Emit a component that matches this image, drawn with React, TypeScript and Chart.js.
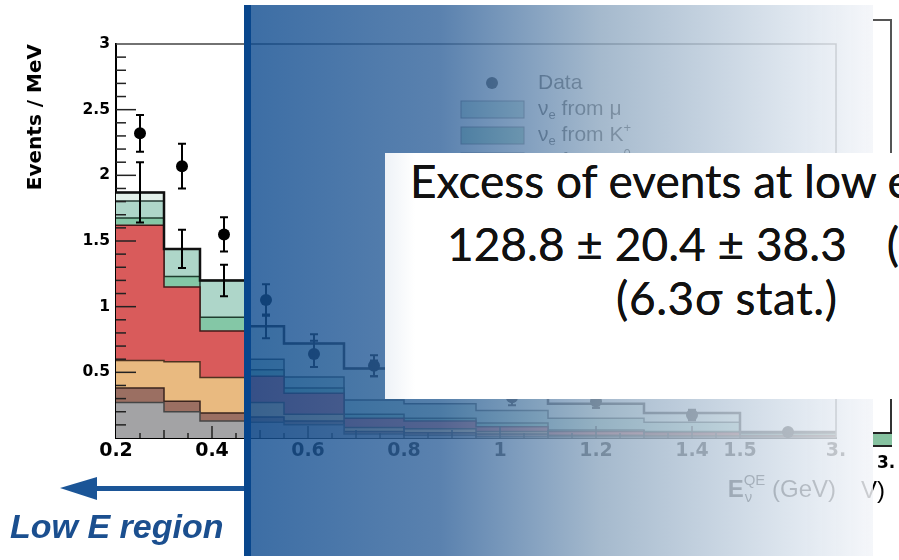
import React, { useEffect, useRef } from 'react';
import { Chart, registerables } from 'chart.js';

Chart.register(...registerables);

// ---------- data ----------
const binEdges = [0.2, 0.3, 0.375, 0.475, 0.55, 0.675, 0.8, 0.95, 1.1, 1.3, 1.5, 3.0];
const dataValues = [2.32, 2.07, 1.55, 1.05, 0.64, 0.55, 0.4, 0.31, 0.28, 0.175, 0.045];
const dataErrors = [0.14, 0.17, 0.13, 0.12, 0.1, 0.08, 0.07, 0.06, 0.05, 0.04, 0.015];
const bgErrors = [0.23, 0.145, 0.12, 0.09, 0.07, 0.06, 0.05, 0.04, 0.03, 0.02, 0.005];

const otherBg = [0.27, 0.2, 0.13, 0.12, 0.1, 0.03, 0.02, 0.01, 0.01, 0.008, 0.003];
const dirtBg = [0.11, 0.08, 0.06, 0.04, 0.03, 0.02, 0.02, 0.02, 0.005, 0.004, 0.002];
const deltaBg = [0.21, 0.3, 0.27, 0.11, 0.05, 0.03, 0.03, 0.02, 0.005, 0.008, 0.003];
const pi0Bg = [1.03, 0.57, 0.355, 0.2, 0.16, 0.07, 0.06, 0.035, 0.03, 0.02, 0.007];
const nueK0 = [0.055, 0.08, 0.105, 0.05, 0.04, 0.03, 0.02, 0.03, 0.01, 0.01, 0.005];
const nueKplus = [0.13, 0.21, 0.28, 0.08, 0.085, 0.11, 0.11, 0.095, 0.09, 0.07, 0.015];
const nueMu = [0.065, 0, 0, 0.25, 0.255, 0.24, 0.16, 0.12, 0.11, 0.07, 0.01];

const xTickValues = [0.2, 0.4, 0.6, 0.8, 1.0, 1.2, 1.4, 1.5, 3.0];
const xTickLabels = ['0.2', '0.4', '0.6', '0.8', '1', '1.2', '1.4', '1.5', '3.'];
const yTickValues = [0, 0.5, 1, 1.5, 2, 2.5, 3];
const yTickLabels = ['', '0.5', '1', '1.5', '2', '2.5', '3'];

// the last bin (1.5 - 3.0 GeV) is drawn compressed, as in the original plot
const toAxis = (e: number) => (e <= 1.5 ? e : 1.5 + ((e - 1.5) * 0.2) / 1.5);

const layers = [
  { label: 'other', values: otherBg, fill: '#a3a3a5', line: '#454545' },
  { label: 'dirt', values: dirtBg, fill: '#9b6f62', line: '#3a241e' },
  { label: 'Δ→Nγ', values: deltaBg, fill: '#e9ba80', line: '#4e3320' },
  { label: 'π0 misid', values: pi0Bg, fill: '#d95b5b', line: '#461818' },
  { label: 'νe from K0', values: nueK0, fill: '#84c7a6', line: '#1f3d2f' },
  { label: 'νe from K+', values: nueKplus, fill: '#aed6c9', line: '#263b34' },
  { label: 'νe from μ', values: nueMu, fill: '#e2f0ea', line: '#2a3a35' },
];

const edgesAxis = binEdges.map(toAxis);
const centersAxis = binEdges.slice(0, -1).map((e, i) => toAxis((e + binEdges[i + 1]) / 2));

const cumulative: number[][] = [];
layers.forEach((l, k) => {
  cumulative.push(l.values.map((v, i) => v + (k > 0 ? cumulative[k - 1][i] : 0)));
});
const totals = cumulative[cumulative.length - 1];

const stepPoints = (vals: number[]) => {
  const pts = vals.map((v, i) => ({ x: edgesAxis[i], y: v }));
  pts.push({ x: edgesAxis[edgesAxis.length - 1], y: vals[vals.length - 1] });
  return pts;
};

// legend entries (text segments: n normal, sub, sup)
const legendEntries: { segs: [string, string][]; color: string }[] = [
  { segs: [['ν', 'n'], ['e', 'sub'], [' from μ', 'n']], color: '#aed6c9' },
  { segs: [['ν', 'n'], ['e', 'sub'], [' from K', 'n'], ['+', 'sup']], color: '#84c7a6' },
  { segs: [['ν', 'n'], ['e', 'sub'], [' from K', 'n'], ['0', 'sup']], color: '#5fae8c' },
  { segs: [['π', 'n'], ['0', 'sup'], [' misid', 'n']], color: '#d95b5b' },
  { segs: [['Δ→Nγ', 'n']], color: '#e9ba80' },
  { segs: [['dirt', 'n']], color: '#9b6f62' },
  { segs: [['other', 'n']], color: '#a3a3a5' },
];

const decorPlugin = {
  id: 'decor',
  afterDatasetsDraw(chart: any) {
    const { ctx, chartArea, scales } = chart;
    const x = scales.x;
    const y = scales.y;
    ctx.save();
    // error bars
    ctx.strokeStyle = '#000';
    ctx.lineWidth = 2;
    const bar = (px: number, lo: number, hi: number) => {
      const a = y.getPixelForValue(lo);
      const b = y.getPixelForValue(hi);
      ctx.beginPath();
      ctx.moveTo(px, a);
      ctx.lineTo(px, b);
      ctx.moveTo(px - 4, a);
      ctx.lineTo(px + 4, a);
      ctx.moveTo(px - 4, b);
      ctx.lineTo(px + 4, b);
      ctx.stroke();
    };
    centersAxis.forEach((c, i) => {
      const px = x.getPixelForValue(c);
      bar(px, totals[i] - bgErrors[i], totals[i] + bgErrors[i]);
      bar(px, dataValues[i] - dataErrors[i], dataValues[i] + dataErrors[i]);
    });
    // ticks inside the frame
    ctx.strokeStyle = '#222';
    ctx.lineWidth = 1.5;
    for (let k = 1; k < 30; k++) {
      const v = k / 10;
      const py = y.getPixelForValue(v);
      const len = k % 5 === 0 ? 20 : 10;
      ctx.beginPath();
      ctx.moveTo(chartArea.left, py);
      ctx.lineTo(chartArea.left + len, py);
      ctx.stroke();
    }
    for (let k = 5; k <= 30; k++) {
      const v = k / 20;
      const px = x.getPixelForValue(v);
      const len = k % 4 === 0 ? 12 : k % 2 === 0 ? 8 : 5;
      ctx.beginPath();
      ctx.moveTo(px, chartArea.bottom);
      ctx.lineTo(px, chartArea.bottom - len);
      ctx.stroke();
    }
    ctx.restore();
  },
  afterDraw(chart: any) {
    const { ctx, chartArea } = chart;
    ctx.save();
    // frame top and right
    ctx.strokeStyle = '#444';
    ctx.lineWidth = 1.5;
    ctx.beginPath();
    ctx.moveTo(chartArea.left, chartArea.top);
    ctx.lineTo(chartArea.right, chartArea.top);
    ctx.lineTo(chartArea.right, chartArea.bottom);
    ctx.stroke();

    // x axis title  E_nu^QE (GeV)
    const base = chartArea.bottom + 59;
    ctx.fillStyle = '#000';
    ctx.textBaseline = 'alphabetic';
    ctx.textAlign = 'left';
    ctx.font = '24px "Liberation Sans"';
    const gev = ' (GeV)';
    const wG = ctx.measureText(gev).width;
    ctx.font = '15px "Liberation Sans"';
    const wQ = ctx.measureText('QE').width;
    ctx.font = 'bold 24px "Liberation Sans"';
    const wE = ctx.measureText('E').width;
    const xG = chartArea.right - wG;
    const xQ = xG - wQ;
    const xE = xQ - wE;
    ctx.fillText('E', xE, base);
    ctx.font = '15px "Liberation Sans"';
    ctx.fillText('QE', xQ, base - 12);
    ctx.fillText('ν', xQ + 1, base + 5);
    ctx.font = '24px "Liberation Sans"';
    ctx.fillText(gev, xG, base);

    // legend
    const lx = chartArea.left + 345;
    let ly = chartArea.top + 39;
    ctx.fillStyle = '#000';
    ctx.beginPath();
    ctx.arc(lx + 31, ly, 6, 0, Math.PI * 2);
    ctx.fill();
    ctx.font = '21px "Liberation Sans"';
    ctx.textBaseline = 'middle';
    ctx.fillText('Data', lx + 77, ly);
    legendEntries.forEach((en) => {
      ly += 26;
      ctx.fillStyle = en.color;
      ctx.fillRect(lx, ly - 8, 63, 17);
      ctx.strokeStyle = '#555';
      ctx.lineWidth = 1;
      ctx.strokeRect(lx, ly - 8, 63, 17);
      let tx = lx + 77;
      ctx.fillStyle = '#000';
      en.segs.forEach(([t, s]) => {
        if (s === 'n') {
          ctx.font = '21px "Liberation Sans"';
          ctx.fillText(t, tx, ly);
        } else {
          ctx.font = '13px "Liberation Sans"';
          ctx.fillText(t, tx, s === 'sub' ? ly + 6 : ly - 7);
        }
        tx += ctx.measureText(t).width;
      });
    });
    ctx.restore();
  },
};

export default function App() {
  const ref = useRef<HTMLCanvasElement>(null);

  useEffect(() => {
    const canvas = ref.current;
    if (!canvas) return;
    const datasets: any[] = layers.map((l, k) => ({
      label: l.label,
      data: stepPoints(cumulative[k]),
      stepped: true,
      fill: k === 0 ? 'origin' : '-1',
      backgroundColor: l.fill,
      borderColor: l.line,
      borderWidth: 1.5,
      pointRadius: 0,
      order: 0,
    }));
    datasets.push({
      label: 'Total Background',
      data: stepPoints(totals),
      stepped: true,
      fill: false,
      borderColor: '#111',
      borderWidth: 2.5,
      pointRadius: 0,
      order: -1,
    });
    datasets.push({
      label: 'Data',
      data: dataValues.map((v, i) => ({ x: centersAxis[i], y: v })),
      showLine: false,
      pointRadius: 6,
      pointHoverRadius: 6,
      pointBackgroundColor: '#000',
      pointBorderWidth: 0,
      borderColor: '#000',
      order: -2,
    });

    const chart = new Chart(canvas, {
      type: 'line',
      data: { datasets },
      plugins: [decorPlugin],
      options: {
        responsive: false,
        animation: false,
        devicePixelRatio: 1,
        layout: { padding: { left: 0, top: 44, right: 63, bottom: 0 } },
        plugins: { legend: { display: false }, tooltip: { enabled: false } },
        scales: {
          x: {
            type: 'linear',
            min: 0.2,
            max: 1.7,
            afterBuildTicks: (s: any) => {
              s.ticks = xTickValues.map((v) => ({ value: toAxis(v) }));
            },
            afterFit: (s: any) => {
              s.height = 122;
            },
            ticks: {
              autoSkip: false,
              maxRotation: 0,
              padding: 2,
              color: '#000',
              font: { family: '"DejaVu Sans"', size: 19, weight: 'bold' },
              callback: (_v: any, i: number) => xTickLabels[i],
            },
            grid: { display: true, drawOnChartArea: false, drawTicks: false },
            border: { display: true, color: '#000', width: 2 },
          },
          y: {
            min: 0,
            max: 3,
            afterBuildTicks: (s: any) => {
              s.ticks = yTickValues.map((v) => ({ value: v }));
            },
            afterFit: (s: any) => {
              s.width = 116;
            },
            ticks: {
              padding: 6,
              color: '#000',
              font: { family: '"DejaVu Sans"', size: 15.5, weight: 'bold' },
              callback: (_v: any, i: number) => yTickLabels[i],
            },
            grid: { display: true, drawOnChartArea: false, drawTicks: false },
            border: { display: true, color: '#000', width: 2 },
            title: {
              display: true,
              text: 'Events / MeV',
              align: 'end',
              color: '#000',
              padding: { top: 24, bottom: 0 },
              font: { family: '"DejaVu Sans"', size: 20, weight: 'bold' },
            },
          },
        },
      } as any,
    });
    return () => chart.destroy();
  }, []);

  const abs = (s: React.CSSProperties): React.CSSProperties => ({ position: 'absolute', ...s });

  return (
    <div
      style={{
        position: 'fixed',
        left: 0,
        top: 0,
        width: 899,
        height: 560,
        overflow: 'hidden',
        background: '#fff',
      }}
    >
      <canvas ref={ref} width={899} height={560} style={abs({ left: 0, top: 0, width: 899, height: 560 })} />

      {/* pieces of the neighbouring plot at the right edge */}
      <div style={abs({ left: 873, top: 19, width: 19, height: 2, background: '#555' })} />
      <div style={abs({ left: 890, top: 19, width: 2, height: 134, background: '#555' })} />
      <div style={abs({ left: 890, top: 399, width: 2, height: 48, background: '#333' })} />
      <div
        style={abs({
          left: 873,
          top: 432,
          width: 19,
          height: 15,
          background: '#86c2a0',
          borderTop: '2px solid #222',
          borderBottom: '2px solid #222',
          boxSizing: 'border-box',
        })}
      />
      <div style={abs({ left: 877, top: 452, font: 'bold 17px "DejaVu Sans"', color: '#000' })}>3.</div>
      <div style={abs({ left: 861, top: 476, font: '24px "Liberation Sans"', color: '#000' })}>V)</div>

      {/* arrow + label */}
      <svg width={250} height={40} style={abs({ left: 0, top: 470 })}>
        <polygon points="60,18 97,7 97,30" fill="#1b5597" />
        <rect x={95} y={16} width={150} height={5} fill="#1b5597" />
      </svg>
      <div
        style={abs({
          left: 10,
          top: 509,
          font: 'italic bold 34px "Liberation Sans"',
          lineHeight: '34px',
          color: '#1b4f8f',
          whiteSpace: 'nowrap',
        })}
      >
        Low E region
      </div>

      {/* blue gradient overlay */}
      <div
        style={abs({
          left: 244,
          top: 5,
          width: 629,
          height: 551,
          background:
            'linear-gradient(to right, rgba(8,70,140,1) 0px, rgba(8,70,140,1) 7px, rgba(18,78,145,0.82) 7px, rgba(54,102,157,0.82) 196px, rgba(145,170,194,0.82) 356px, rgba(218,227,237,0.82) 556px, rgba(243,245,249,0.84) 629px)',
        })}
      />

      {/* white text box */}
      <div
        style={abs({
          left: 385,
          top: 153,
          width: 514,
          height: 246,
          overflow: 'hidden',
          background: 'linear-gradient(to right, #eef2f7 0px, #ffffff 30px)',
          color: '#111',
          font: '46px Lato',
          whiteSpace: 'nowrap',
          textShadow: '0 0 0.6px #111',
        })}
      >
        <div style={abs({ left: 25, top: 5, lineHeight: '46px' })}>Excess of events at low energy:</div>
        <div style={abs({ left: 62, top: 68, lineHeight: '46px' })}>
          128.8 ± 20.4 ± 38.3<span style={{ marginLeft: 40 }}>(3.0σ)</span>
        </div>
        <div style={abs({ left: 231, top: 122, lineHeight: '46px', letterSpacing: '0.6px' })}>(6.3σ stat.)</div>
      </div>
    </div>
  );
}
